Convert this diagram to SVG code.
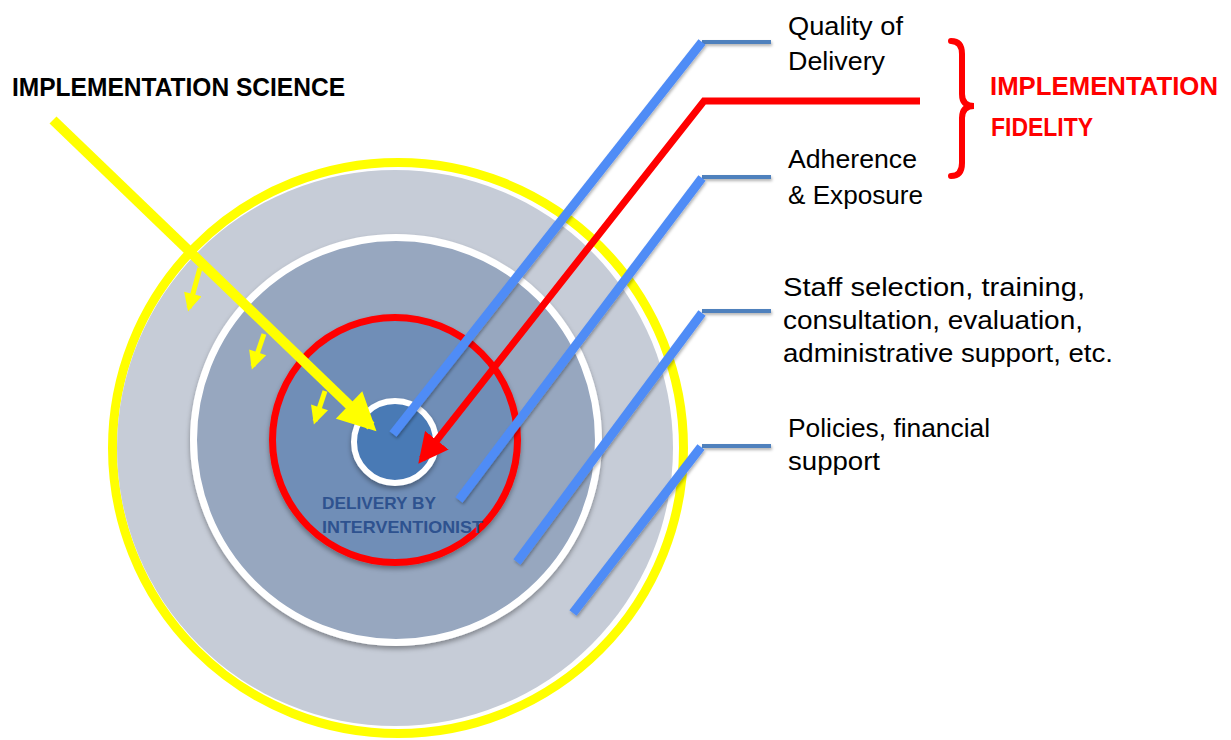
<svg xmlns="http://www.w3.org/2000/svg" width="1231" height="740" viewBox="0 0 1231 740">
  <defs>
    <filter id="shadow" x="-20%" y="-20%" width="140%" height="140%">
      <feDropShadow dx="0" dy="3" stdDeviation="2.5" flood-color="#000" flood-opacity="0.35"/>
    </filter>
    <filter id="lineShadow" x="-20%" y="-20%" width="140%" height="140%">
      <feDropShadow dx="1" dy="2" stdDeviation="1.5" flood-color="#000" flood-opacity="0.3"/>
    </filter>
    <marker id="yellowHeadBig" viewBox="0 0 10 10" refX="8" refY="5" markerUnits="userSpaceOnUse" markerWidth="40" markerHeight="38" orient="auto">
      <path d="M0,0 L10,5 L0,10 Z" fill="#FFFF00"/>
    </marker>
    <marker id="yellowHeadSmall" viewBox="0 0 10 10" refX="8" refY="5" markerUnits="userSpaceOnUse" markerWidth="19" markerHeight="18" orient="auto">
      <path d="M0,0 L10,5 L0,10 Z" fill="#FFFF00"/>
    </marker>
    <marker id="redHead" viewBox="0 0 10 10" refX="8" refY="5" markerUnits="userSpaceOnUse" markerWidth="30" markerHeight="30" orient="auto">
      <path d="M0,0 L10,5 L0,10 Z" fill="#FF0000"/>
    </marker>
  </defs>
  <style>
    .label { font-family: "Liberation Sans", Arial, sans-serif; font-size: 25px; fill: #000; }
    .title { font-family: "Liberation Sans", Arial, sans-serif; font-size: 26px; font-weight: bold; }
    .core { font-family: "Liberation Sans", Arial, sans-serif; font-size: 17px; font-weight: bold; fill: #2E528F; }
    .tick { stroke: #4F81BD; stroke-width: 4; fill: none; }
    .spoke { stroke: #4F8CF6; stroke-width: 9; fill: none; }
    .yellow { stroke: #FFFF00; fill: none; }
  </style>

  <!-- concentric rings -->
  <g id="ring-policy">
    <circle cx="398" cy="448" r="285.5" fill="none" stroke="#FFFF00" stroke-width="9"/>
    <circle cx="395" cy="448" r="278" fill="#C6CCD7"/>
  </g>
  <g id="ring-organization" filter="url(#shadow)">
    <circle cx="396" cy="440" r="202.5" fill="#97A7BF" stroke="#FFFFFF" stroke-width="7"/>
  </g>
  <g id="ring-fidelity" filter="url(#shadow)">
    <circle cx="395" cy="440" r="122.5" fill="#6F8EB7" stroke="#FF0000" stroke-width="7"/>
  </g>
  <g id="core-delivery">
    <circle cx="395" cy="442" r="41" fill="#4A7AB5" stroke="#FFFFFF" stroke-width="6" filter="url(#shadow)"/>
    <text class="core" x="322" y="509" textLength="114" lengthAdjust="spacingAndGlyphs">DELIVERY BY</text>
    <text class="core" x="322" y="533" textLength="161" lengthAdjust="spacingAndGlyphs">INTERVENTIONIST</text>
  </g>

  <!-- connectors -->
  <g id="connectors">
    <g filter="url(#lineShadow)">
      <line class="tick" x1="702" y1="42" x2="771" y2="42"/>
      <line class="tick" x1="702" y1="177" x2="771" y2="177"/>
      <line class="tick" x1="702" y1="311" x2="771" y2="311"/>
      <line class="tick" x1="702" y1="446" x2="771" y2="446"/>
    </g>
    <g filter="url(#lineShadow)">
      <line class="spoke" x1="702" y1="42" x2="393" y2="434"/>
      <line class="spoke" x1="702" y1="178" x2="459" y2="500"/>
      <line class="spoke" x1="702" y1="313" x2="517" y2="562"/>
      <line class="spoke" x1="701" y1="447" x2="573" y2="613"/>
    </g>
    <polyline points="920,101 704,101 422,459" fill="none" stroke="#FF0000" stroke-width="7" marker-end="url(#redHead)"/>
    <line class="yellow" x1="53" y1="120" x2="371" y2="426" stroke-width="10" marker-end="url(#yellowHeadBig)"/>
    <line class="yellow" x1="200" y1="268" x2="189" y2="308" stroke-width="5" marker-end="url(#yellowHeadSmall)"/>
    <line class="yellow" x1="264" y1="334" x2="253" y2="366" stroke-width="5" marker-end="url(#yellowHeadSmall)"/>
    <line class="yellow" x1="325" y1="391" x2="315" y2="421" stroke-width="5" marker-end="url(#yellowHeadSmall)"/>
  </g>

  <!-- fidelity brace -->
  <g id="fidelity-brace">
    <path d="M951,41 Q962,41 962,54 L962,94 Q962,106 974,106 Q962,106 962,118 L962,163 Q962,176 951,176" fill="none" stroke="#FF0000" stroke-width="6" stroke-linecap="round"/>
    <text class="title" x="990" y="95" fill="#FF0000" textLength="228" lengthAdjust="spacingAndGlyphs">IMPLEMENTATION</text>
    <text class="title" x="991" y="136" fill="#FF0000" textLength="102" lengthAdjust="spacingAndGlyphs">FIDELITY</text>
  </g>

  <!-- labels -->
  <g id="label-science">
    <text class="title" x="12" y="96" fill="#000" textLength="333" lengthAdjust="spacingAndGlyphs">IMPLEMENTATION SCIENCE</text>
  </g>
  <g id="label-quality">
    <text class="label" x="788" y="35" textLength="115" lengthAdjust="spacingAndGlyphs">Quality of</text>
    <text class="label" x="788" y="70" textLength="97" lengthAdjust="spacingAndGlyphs">Delivery</text>
  </g>
  <g id="label-adherence">
    <text class="label" x="788" y="168" textLength="129" lengthAdjust="spacingAndGlyphs">Adherence</text>
    <text class="label" x="788" y="204" textLength="135" lengthAdjust="spacingAndGlyphs">&amp; Exposure</text>
  </g>
  <g id="label-staff">
    <text class="label" x="783" y="296" textLength="302" lengthAdjust="spacingAndGlyphs">Staff selection, training,</text>
    <text class="label" x="783" y="329" textLength="300" lengthAdjust="spacingAndGlyphs">consultation, evaluation,</text>
    <text class="label" x="783" y="362" textLength="330" lengthAdjust="spacingAndGlyphs">administrative support, etc.</text>
  </g>
  <g id="label-policies">
    <text class="label" x="788" y="437" textLength="202" lengthAdjust="spacingAndGlyphs">Policies, financial</text>
    <text class="label" x="788" y="470" textLength="92" lengthAdjust="spacingAndGlyphs">support</text>
  </g>
</svg>
